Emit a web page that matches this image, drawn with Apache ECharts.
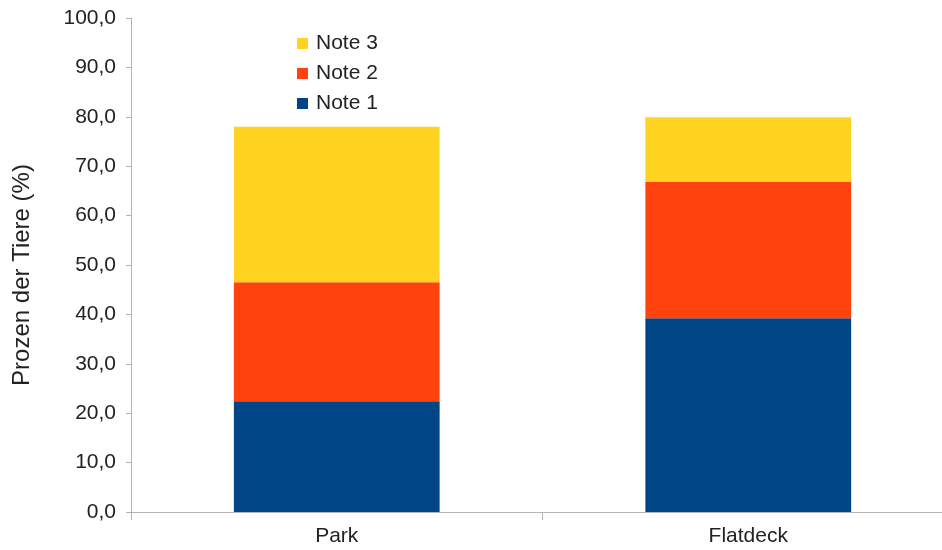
<!DOCTYPE html>
<html>
<head>
<meta charset="utf-8">
<script src="https://cdn.jsdelivr.net/npm/echarts@6/dist/echarts.min.js"></script>
<style>html,body{margin:0;padding:0;background:#fff}#c{width:942px;height:550px}</style>
</head>
<body>
<div id="c"></div>
<script>
const categories = ['Park', 'Flatdeck'];
const note1 = [22.4, 39.2];
const note2 = [24.1, 27.6];
const note3 = [31.5, 13.1];
const yTicks = { min: 0, max: 100, interval: 10 };

const font = '"Liberation Sans", Arial, sans-serif';
const txt = '#222';
const axisCol = '#b3b3b3';

const chart = echarts.init(document.getElementById('c'), null, { renderer: 'canvas' });
chart.setOption({
  animation: false,
  backgroundColor: '#fff',
  grid: { left: 131, width: 823, top: 18, bottom: 38, outerBoundsMode: 'none', containLabel: false },
  legend: {
    data: ['Note 3', 'Note 2', 'Note 1'],
    orient: 'vertical',
    left: 292,
    top: 28,
    itemWidth: 11,
    itemHeight: 11,
    itemGap: 9,
    icon: 'rect',
    textStyle: { fontFamily: font, fontSize: 21, color: txt, padding: [0, 0, 0, 3] }
  },
  xAxis: {
    type: 'category',
    data: categories,
    axisLine: { lineStyle: { color: axisCol, width: 1 } },
    axisTick: { show: true, length: 8, lineStyle: { color: axisCol } },
    axisLabel: { fontFamily: font, fontSize: 21, color: txt, margin: 14 },
    splitLine: { show: false }
  },
  yAxis: {
    type: 'value',
    min: yTicks.min,
    max: yTicks.max,
    interval: yTicks.interval,
    name: 'Prozen der Tiere (%)',
    nameLocation: 'middle',
    nameGap: 97,
    nameTextStyle: { fontFamily: font, fontSize: 24, color: txt, padding: [0, 20, 0, 0] },
    axisLine: { show: true, lineStyle: { color: axisCol, width: 1 } },
    axisTick: { show: true, length: 5, lineStyle: { color: axisCol } },
    axisLabel: {
      fontFamily: font, fontSize: 21, color: txt, margin: 15,
      formatter: v => v.toFixed(1).replace('.', ',')
    },
    splitLine: { show: false }
  },
  series: [
    { name: 'Note 1', type: 'bar', stack: 's', data: note1, barWidth: '50%', itemStyle: { color: '#004586' } },
    { name: 'Note 2', type: 'bar', stack: 's', data: note2, barWidth: '50%', itemStyle: { color: '#ff420e' } },
    { name: 'Note 3', type: 'bar', stack: 's', data: note3, barWidth: '50%', itemStyle: { color: '#ffd320' } }
  ]
});
</script>
</body>
</html>
